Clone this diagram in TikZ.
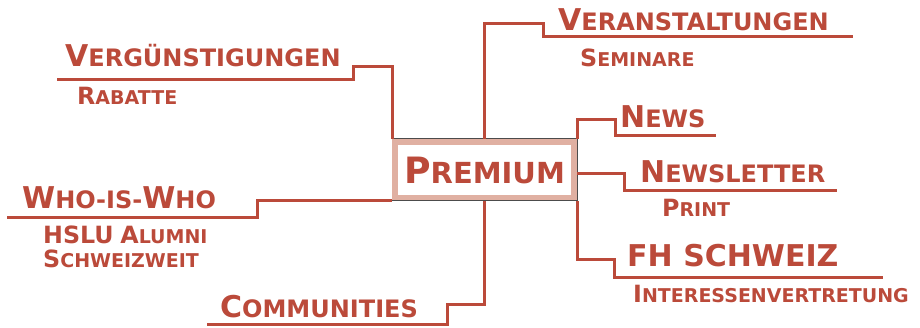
\documentclass[tikz,border=0pt]{standalone}
\usepackage{fontspec}
\setmainfont{DejaVu Sans}
\usepackage{graphicx}
\usepackage{xcolor}
\usepackage{tikz}

\definecolor{mapred}{RGB}{187,74,58}
\definecolor{bandpink}{RGB}{224,176,162}
\newcommand\firstl[1]{\scalebox{1.25}{#1}}

\tikzset{
	branch/.style={draw=mapred, line width=3pt},
	mainlabel/.style={anchor=base west, inner sep=0pt, text=mapred,
		font=\bfseries\fontsize{24}{26}\selectfont},
	sublabel/.style={anchor=base west, inner sep=0pt, text=mapred, align=left,
		font=\bfseries\fontsize{19}{24}\selectfont},
	premiumbox/.style={draw=bandpink, line width=6pt, fill=white,
		minimum width=179pt, minimum height=56pt, text=mapred,
		font=\bfseries\fontsize{29}{30}\selectfont}
}

\begin{document}
\begin{tikzpicture}[x=1pt,y=-1pt]
	\useasboundingbox (0,0) rectangle (920,328);
	%
	\node[premiumbox] (premium) at (484.5,170) {\firstl{P}REMIUM};
	\draw[black!70, line width=1pt] (premium.south west) -- (premium.south east)
		-- (premium.north east) -- (premium.north west);
	%
	\node[mainlabel] (vergu) at (65,67) {\firstl{V}ERGÜNSTIGUNGEN};
	\node[sublabel] (rabatte) at (77,105) {\firstl{R}ABATTE};
	\node[mainlabel] (veran) at (558,31) {\firstl{V}ERANSTALTUNGEN};
	\node[sublabel] (seminare) at (580,67) {\firstl{S}EMINARE};
	\node[mainlabel] (news) at (620,128) {\firstl{N}EWS};
	\node[mainlabel] (newsl) at (640,183) {\firstl{N}EWSLETTER};
	\node[sublabel] (print) at (662,217) {\firstl{P}RINT};
	\node[mainlabel] (fhs) at (627,267) {\firstl{FH SCHWEIZ}};
	\node[sublabel] (inter) at (633,303) {\firstl{I}NTERESSENVERTRETUNG};
	\node[mainlabel] (whois) at (22,209) {\firstl{W}HO-IS-\firstl{W}HO};
	\node[sublabel] (hslu) at (43,268) {\firstl{HSLU} \firstl{A}LUMNI\\\firstl{S}CHWEIZWEIT};
	\node[mainlabel] (commu) at (220,317) {\firstl{C}OMMUNITIES};
	%
	\coordinate (vergu-a) at (353,67);
	\coordinate (vergu-b) at (57,80);
	\coordinate (veran-a) at (543,24);
	\coordinate (veran-b) at (853,37);
	\coordinate (news-a) at (615,120);
	\coordinate (news-b) at (716,136);
	\coordinate (newsl-a) at (624,191);
	\coordinate (newsl-b) at (837,191);
	\coordinate (fhs-a) at (614,260);
	\coordinate (fhs-b) at (883,278);
	\coordinate (commu-a) at (447,305);
	\coordinate (commu-b) at (207,324);
	\coordinate (whois-a) at (257,218);
	\coordinate (whois-b) at (7,218);
	%
	\draw[branch] (premium.north west) |- (vergu-a) |- (vergu-b);
	\draw[branch] (premium.north) |- (veran-a) |- (veran-b);
	\draw[branch] (premium.north east) |- (news-a) |- (news-b);
	\draw[branch] ([yshift=-4pt]premium.east) -| (newsl-a) -- (newsl-b);
	\draw[branch] (premium.south east) |- (fhs-a) |- (fhs-b);
	\draw[branch] (premium.south) |- (commu-a) |- (commu-b);
	\draw[branch] (premium.south west) -| (whois-a) -- (whois-b);
\end{tikzpicture}
\end{document}
